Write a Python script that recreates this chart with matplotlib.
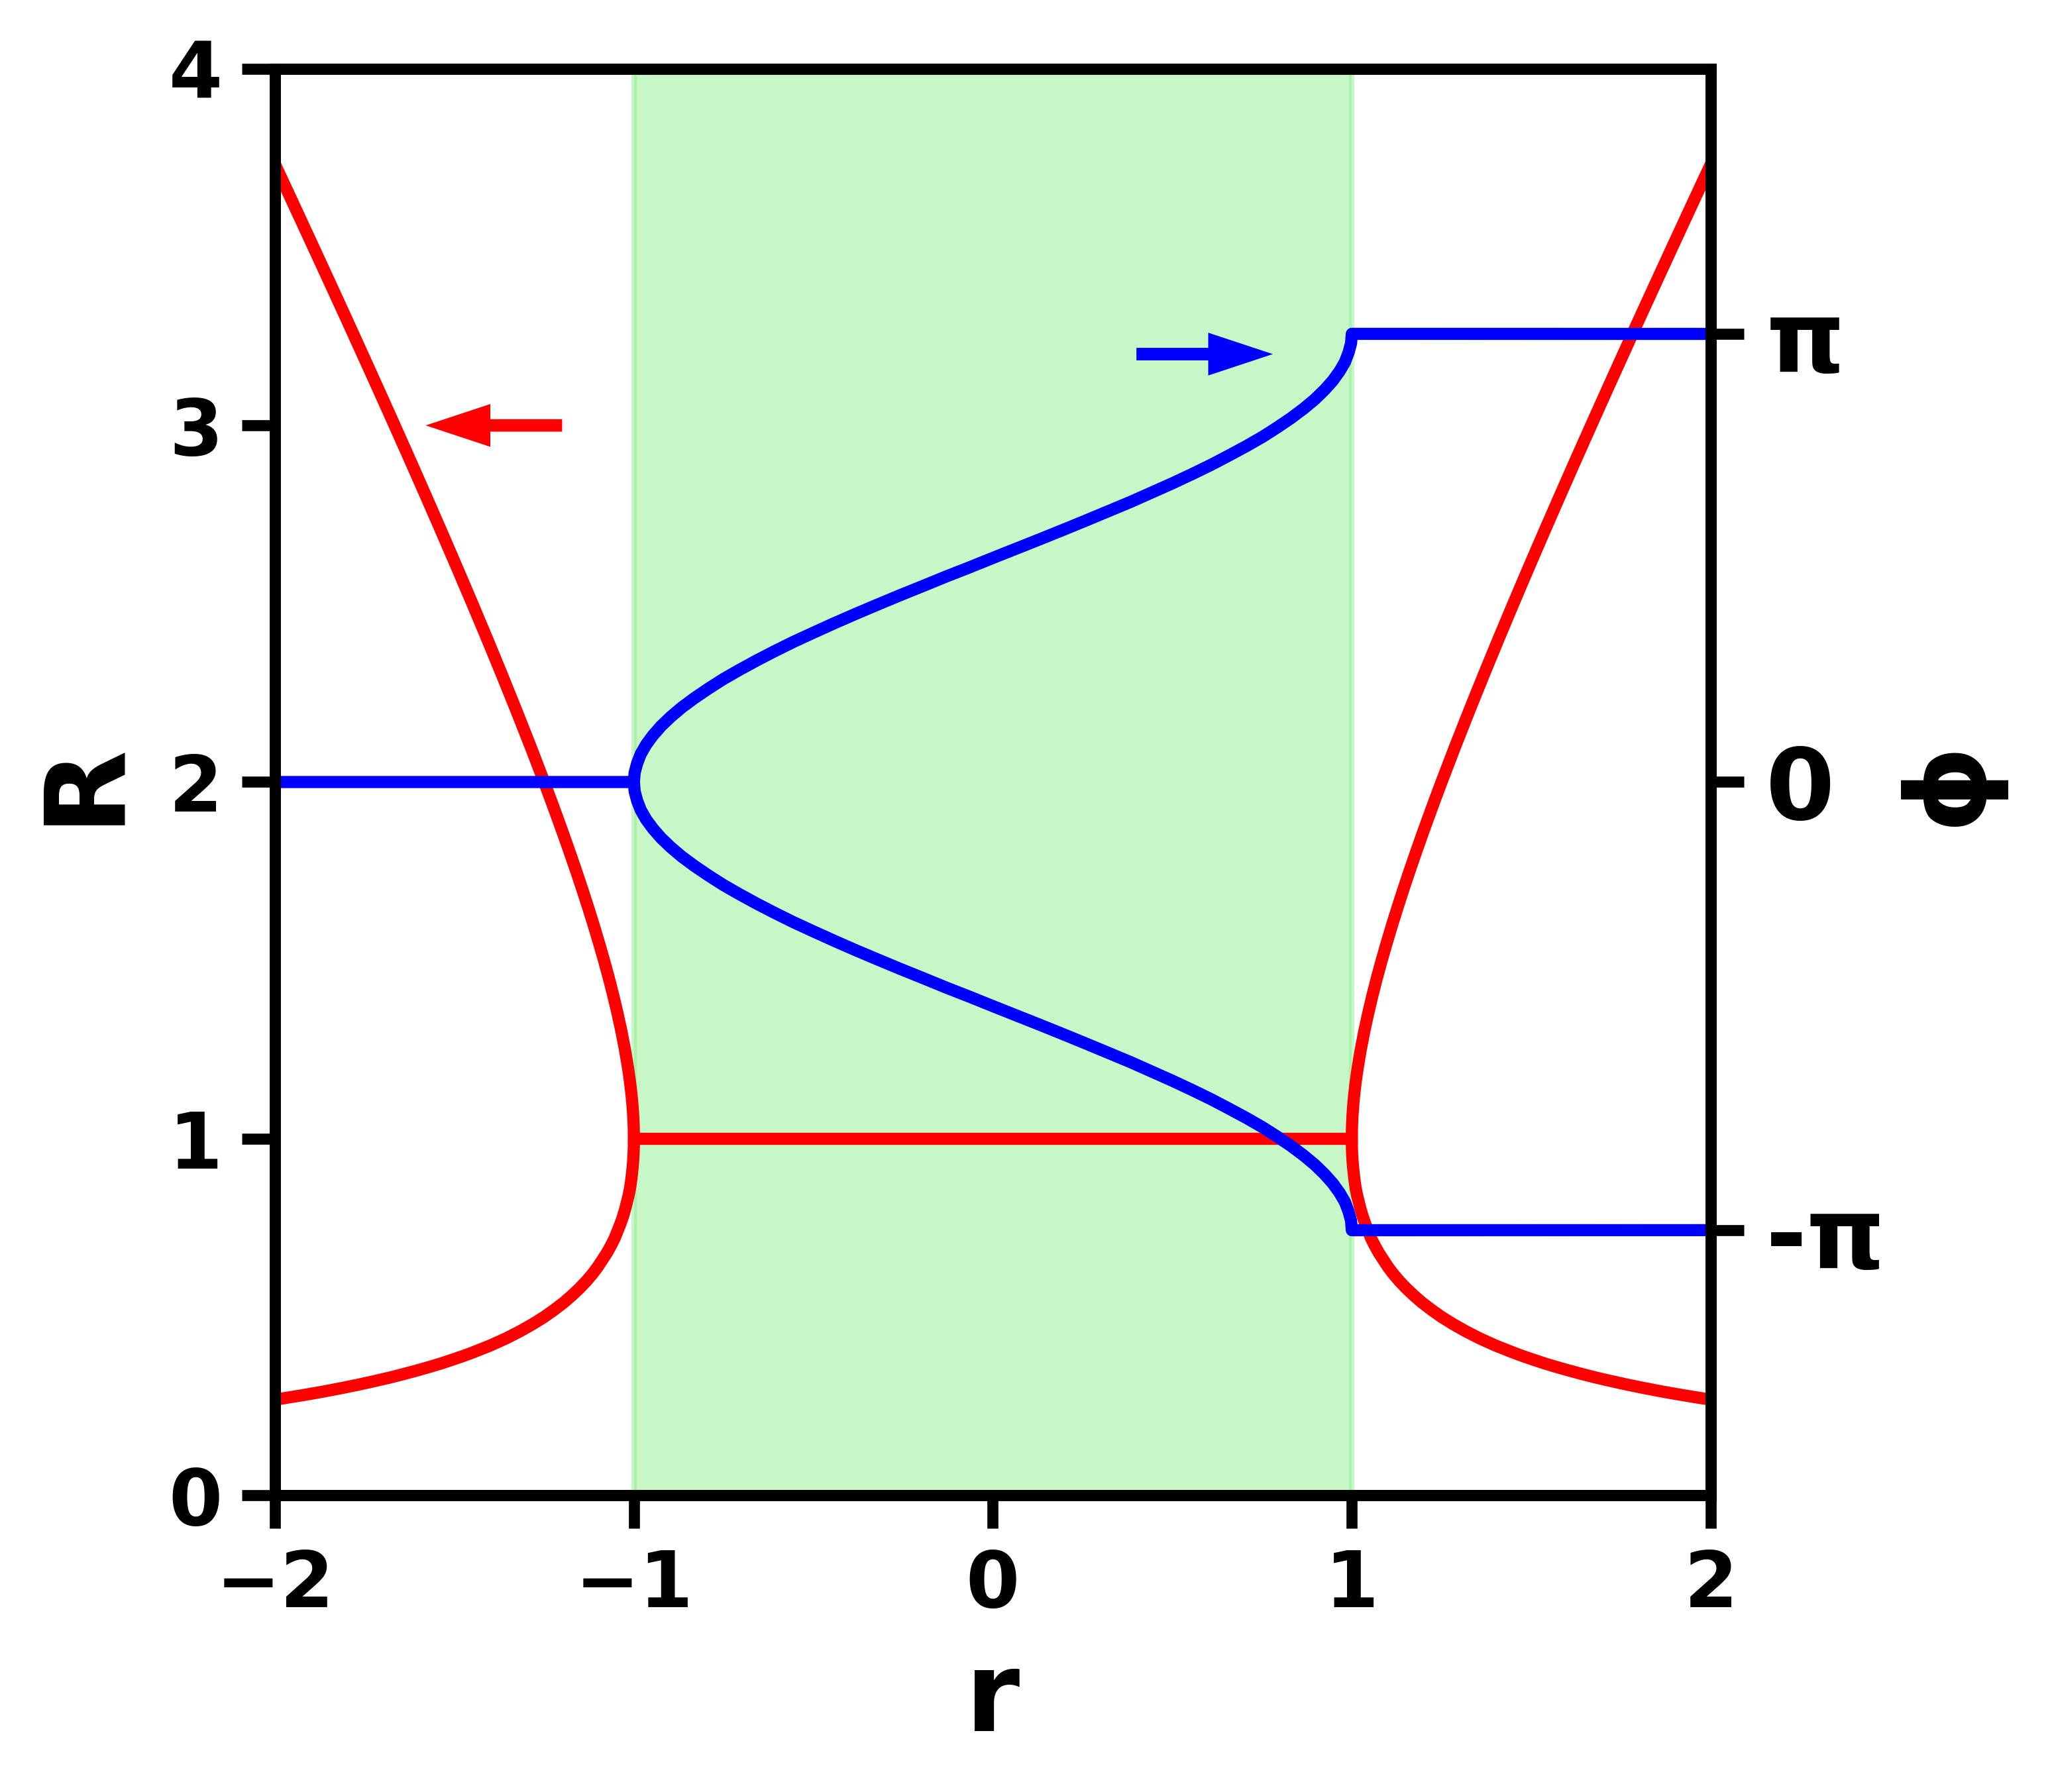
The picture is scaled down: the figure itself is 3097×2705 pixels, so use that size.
import numpy as np
import matplotlib
matplotlib.use('Agg')
import matplotlib.pyplot as plt

plt.rcParams['font.family'] = ['DejaVu Sans']
plt.rcParams['font.weight'] = 'bold'
plt.rcParams['axes.labelweight'] = 'bold'

# amplitude branches for |r| >= 1 (right side, mirrored for r < 0)
amp_R = [0.268, 0.28, 0.29, 0.30, 0.31, 0.32, 0.33, 0.34, 0.35, 0.36, 0.37,
         0.38, 0.39, 0.40, 0.42, 0.44, 0.46, 0.48, 0.50, 0.52, 0.54, 0.56,
         0.58, 0.60, 0.62, 0.64, 0.66, 0.68, 0.70, 0.72, 0.74, 0.76, 0.78,
         0.80, 0.82, 0.84, 0.86, 0.88, 0.90, 0.92, 0.94, 0.96, 0.98, 1.00,
         1.02, 1.04, 1.06, 1.08, 1.10, 1.12, 1.14, 1.16, 1.18, 1.20, 1.25,
         1.30, 1.35, 1.40, 1.45, 1.50, 1.55, 1.60, 1.65, 1.70, 1.75, 1.80,
         1.85, 1.90, 1.95, 2.00, 2.10, 2.20, 2.30, 2.40, 2.50, 2.60, 2.70,
         2.80, 2.90, 3.00, 3.10, 3.20, 3.30, 3.40, 3.50, 3.60, 3.70, 3.732]
amp_r = [2.000, 1.926, 1.869, 1.817, 1.768, 1.723, 1.680, 1.641, 1.604, 1.569,
         1.536, 1.506, 1.477, 1.450, 1.400, 1.356, 1.317, 1.282, 1.250, 1.222,
         1.196, 1.173, 1.152, 1.133, 1.116, 1.101, 1.088, 1.075, 1.064, 1.054,
         1.046, 1.038, 1.031, 1.025, 1.020, 1.015, 1.011, 1.008, 1.0056,
         1.0035, 1.0019, 1.0008, 1.0002, 1.0000, 1.0002, 1.0008, 1.0017,
         1.0030, 1.0045, 1.0064, 1.0086, 1.0110, 1.0137, 1.0167, 1.025,
         1.0346, 1.0454, 1.0571, 1.0698, 1.0833, 1.0976, 1.1125, 1.1280,
         1.1441, 1.1607, 1.1778, 1.1953, 1.2132, 1.2314, 1.250, 1.2881,
         1.3273, 1.3674, 1.4083, 1.450, 1.4923, 1.5352, 1.5786, 1.6224,
         1.6667, 1.7113, 1.7563, 1.8015, 1.8471, 1.8929, 1.9389, 1.9851, 2.000]

# locked amplitude inside the band
lock_r = [-1.0, 1.0]
lock_R = [1.0, 1.0]
band = (-1.0, 1.0)

# phase inside the band (upper branch, lower one is its negative)
phase_r = [-1.000, -0.998, -0.991, -0.981, -0.966, -0.947, -0.924, -0.897,
           -0.866, -0.831, -0.793, -0.752, -0.707, -0.659, -0.609, -0.556,
           -0.500, -0.442, -0.383, -0.321, -0.259, -0.195, -0.131, -0.065,
           0.000, 0.065, 0.131, 0.195, 0.259, 0.321, 0.383, 0.442, 0.500,
           0.556, 0.609, 0.659, 0.707, 0.752, 0.793, 0.831, 0.866, 0.897,
           0.924, 0.947, 0.966, 0.981, 0.991, 0.998, 1.000]
phase_phi = [0.000, 0.065, 0.131, 0.196, 0.262, 0.327, 0.393, 0.458, 0.524,
             0.589, 0.654, 0.720, 0.785, 0.851, 0.916, 0.982, 1.047, 1.113,
             1.178, 1.244, 1.309, 1.374, 1.440, 1.505, 1.571, 1.636, 1.702,
             1.767, 1.833, 1.898, 1.963, 2.029, 2.094, 2.160, 2.225, 2.291,
             2.356, 2.421, 2.487, 2.552, 2.618, 2.683, 2.749, 2.814, 2.880,
             2.945, 3.011, 3.076, 3.142]

fig = plt.figure(figsize=(3097 / 600, 2705 / 600), dpi=600)
ax = fig.add_axes([0.134, 0.1656, 0.6997, 0.7960])

ax.axvspan(band[0], band[1], color='lightgreen', alpha=0.5)
ax.plot(amp_r, amp_R, color='red', lw=2.2)
ax.plot([-v for v in amp_r], amp_R, color='red', lw=2.2)
ax.plot(lock_r, lock_R, color='red', lw=2.2)
ax.arrow(-1.2, 3.0, -0.2, 0, width=0.035, head_width=0.12, head_length=0.18,
         color='red', lw=0)

ax.set_xlim(-2, 2)
ax.set_ylim(0, 4)
ax.set_xticks([-2, -1, 0, 1, 2])
ax.set_yticks([0, 1, 2, 3, 4])
ax.tick_params(labelsize=14, width=2, length=6)
ax.set_xlabel('r', fontsize=20)
ax.set_ylabel('R', fontsize=20, labelpad=5.5)

ax2 = ax.twinx()
up_r = [-2.0] + phase_r + [2.0]
up_phi = [0.0] + phase_phi + [np.pi]
lo_r = phase_r + [2.0]
lo_phi = [-p for p in phase_phi] + [-np.pi]
ax2.plot(up_r, up_phi, color='blue', lw=2.2, solid_capstyle='round')
ax2.plot(lo_r, lo_phi, color='blue', lw=2.2, solid_capstyle='round')
ax2.arrow(0.4, 3.0, 0.2, 0, width=0.088, head_width=0.3, head_length=0.18,
          color='blue', lw=0)
ax2.set_ylim(-5, 5)
ax2.set_yticks([-np.pi, 0, np.pi])
ax2.set_yticklabels(['-π', '0', 'π'])
ax2.tick_params(labelsize=18, width=2, length=6, pad=4)
ax2.set_ylabel('ϕ', fontsize=20, labelpad=1.5)

for a in (ax, ax2):
    for s in a.spines.values():
        s.set_linewidth(2)

fig.savefig('out.png', dpi=600)
